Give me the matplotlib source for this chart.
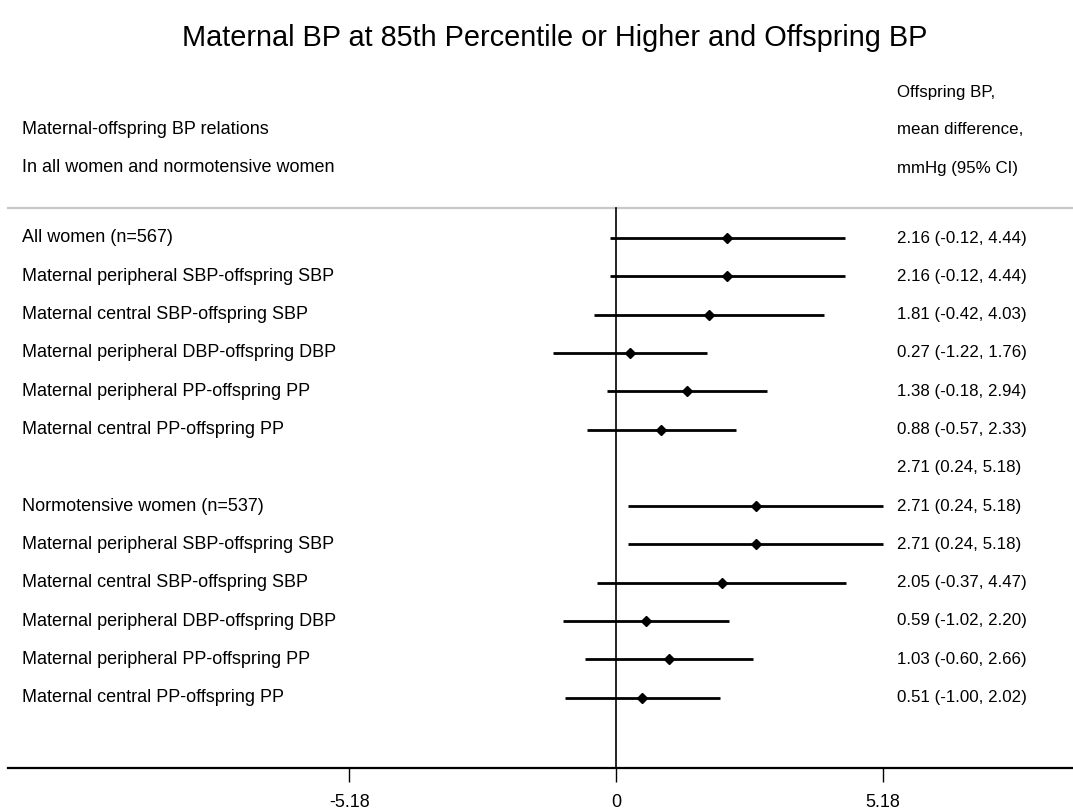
import matplotlib
matplotlib.use("Agg")
import matplotlib.pyplot as plt

plt.rcParams['font.family'] = ['Liberation Sans', 'DejaVu Sans']

labels = ["All women (n=567)",
          "Maternal peripheral SBP-offspring SBP",
          "Maternal central SBP-offspring SBP",
          "Maternal peripheral DBP-offspring DBP",
          "Maternal peripheral PP-offspring PP",
          "Maternal central PP-offspring PP",
          "",
          "Normotensive women (n=537)",
          "Maternal peripheral SBP-offspring SBP",
          "Maternal central SBP-offspring SBP",
          "Maternal peripheral DBP-offspring DBP",
          "Maternal peripheral PP-offspring PP",
          "Maternal central PP-offspring PP"]
means = [2.16, 2.16, 1.81, 0.27, 1.38, 0.88, 2.71, 2.71, 2.71, 2.05, 0.59, 1.03, 0.51]
lows  = [-0.12, -0.12, -0.42, -1.22, -0.18, -0.57, 0.24, 0.24, 0.24, -0.37, -1.02, -0.60, -1.00]
highs = [4.44, 4.44, 4.03, 1.76, 2.94, 2.33, 5.18, 5.18, 5.18, 4.47, 2.20, 2.66, 2.02]
draw_ci = [True, True, True, True, True, True, False, True, True, True, True, True, True]
xticks = [-5.18, 0, 5.18]
xtick_labels = ["-5.18", "0", "5.18"]

W, H = 1073, 811
fig = plt.figure(figsize=(W / 100, H / 100), dpi=100)
ax = fig.add_axes([0, 0, 1, 1])

# pixel calibration
x0px, pxu = 616.0, 51.5
y0px, pyu = 238.0, 38.3
def xd(px): return (px - x0px) / pxu
def yd(py): return (py - y0px) / pyu

ax.set_xlim(xd(0), xd(W))
ax.set_ylim(yd(H), yd(0))

fs_left = 13
fs_right = 12.2
for i, (lab, m, lo, hi, d) in enumerate(zip(labels, means, lows, highs, draw_ci)):
    if lab:
        ax.text(xd(22), i, lab, ha='left', va='center', fontsize=fs_left)
    ax.text(xd(897), i, f"{m:.2f} ({lo:.2f}, {hi:.2f})", ha='left', va='center', fontsize=fs_right)
    if d:
        ax.plot([lo, hi], [i, i], color='black', lw=2.0, solid_capstyle='butt', zorder=3)
        ax.plot([m], [i], marker='D', color='black', markersize=5.5, zorder=4)

# headers
ax.text(xd(897), yd(92), "Offspring BP,", ha='left', va='center', fontsize=fs_right)
ax.text(xd(897), yd(130), "mean difference,", ha='left', va='center', fontsize=fs_right)
ax.text(xd(897), yd(168), "mmHg (95% CI)", ha='left', va='center', fontsize=fs_right)
ax.text(xd(22), yd(130), "Maternal-offspring BP relations", ha='left', va='center', fontsize=fs_left)
ax.text(xd(22), yd(168), "In all women and normotensive women", ha='left', va='center', fontsize=fs_left)

ax.text(xd(555), yd(38), "Maternal BP at 85th Percentile or Higher and Offspring BP",
        ha='center', va='center', fontsize=20.8)

# separator and zero line
ax.plot([xd(8), xd(W)], [yd(208), yd(208)], color='#c8c8c8', lw=1.6, zorder=1)
ax.plot([0, 0], [yd(208), yd(768)], color='black', lw=1.2, zorder=2)

# x axis
for s in ['top', 'left', 'right']:
    ax.spines[s].set_visible(False)
ax.spines['bottom'].set_position(('data', yd(768)))
ax.spines['bottom'].set_bounds(xd(8), xd(W))
ax.spines['bottom'].set_linewidth(1.6)
ax.set_xticks(xticks)
ax.set_xticklabels(xtick_labels, fontsize=13)
ax.tick_params(axis='x', direction='out', length=10, width=1.0, pad=9)
ax.set_yticks([])

fig.savefig("out.png", dpi=100)
